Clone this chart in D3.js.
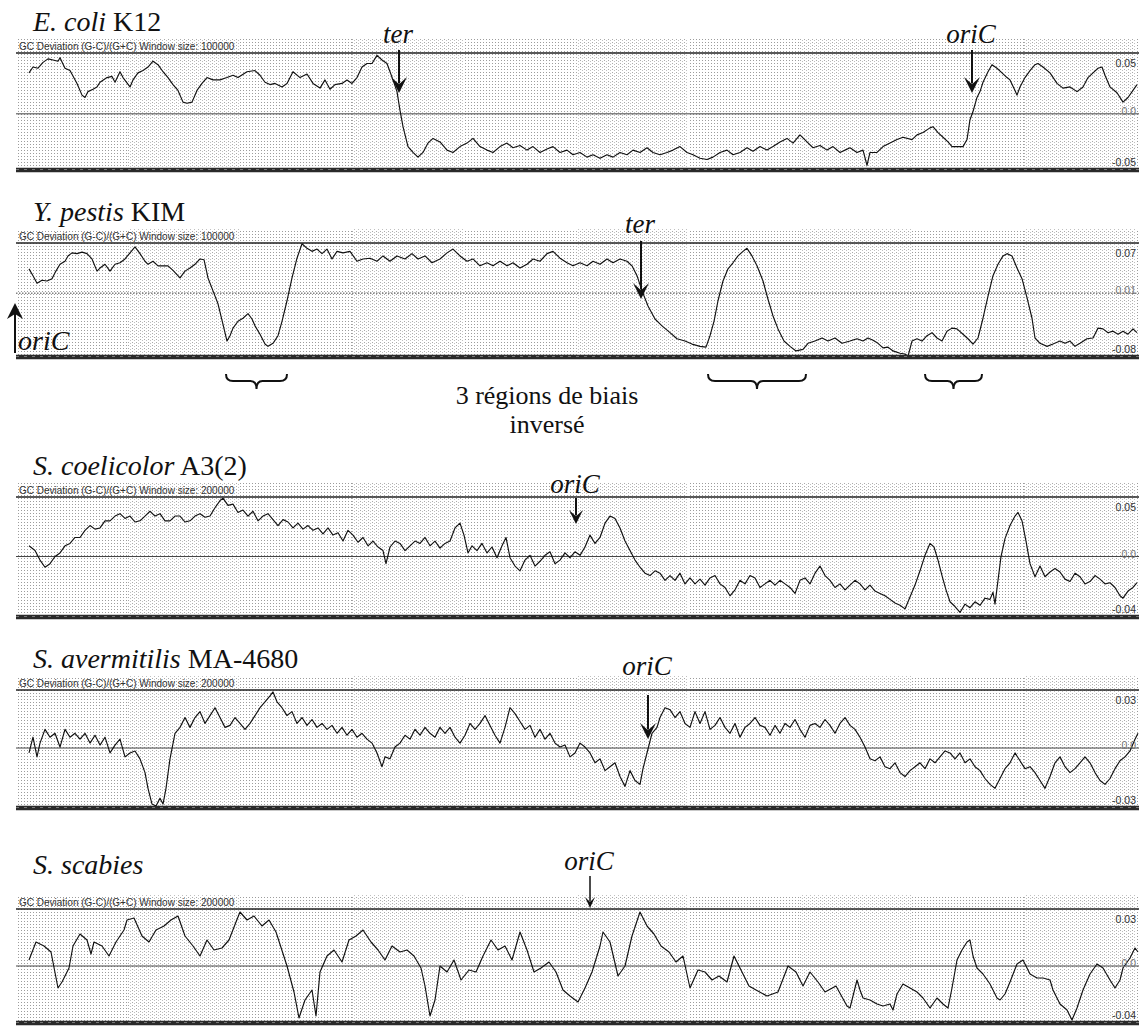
<!DOCTYPE html>
<html><head><meta charset="utf-8">
<script src="https://cdn.jsdelivr.net/npm/d3@7"></script>
<style>body{margin:0;background:#fff}svg{display:block}</style>
</head><body><svg id="c" width="1139" height="1026"></svg>
<script>
// ---------- DATA (genome position in window units 0..1110, GC skew value) ----------
const speciesItalic = ["E. coli", "Y. pestis", "S. coelicolor", "S. avermitilis", "S. scabies"];
const speciesStrain = [" K12", " KIM", " A3(2)", " MA-4680", ""];
const windowSizes = [100000, 100000, 200000, 200000, 200000];
const tickTop = ["0.05", "0.07", "0.05", "0.03", "0.03"];
const tickMid = ["0.0", "0.01", "0.0", "0.0", "0.0"];
const tickBottom = ["-0.05", "-0.08", "-0.04", "-0.03", "-0.04"];
const axisMax = [0.05, 0.07, 0.05, 0.03, 0.0285];
const axisMin = [-0.05, -0.08, -0.0508, -0.03, -0.0285];
const axisMidValue = [-0.002, 0.004, 0, 0.0005, 0];

const ecoliPos = [1,5,10,15,20,25,30,32,37,42,49,54,57,60,65,69,72,79,84,87,92,95,102,105,110,115,120,125,130,135,140,145,150,155,159,164,169,174,179,185,192,199,205,210,219,227,232,237,242,247,254,259,265,272,279,285,292,297,302,307,314,319,324,329,334,339,344,349,354,359,362,365,369,372,375,380,385,390,395,400,405,412,419,425,432,439,445,452,459,465,472,479,485,492,499,505,512,519,525,532,539,545,552,559,565,572,579,585,592,599,605,612,619,625,632,639,645,652,659,665,672,679,685,692,699,705,712,719,725,732,739,745,752,759,765,772,779,785,792,799,805,812,817,822,829,835,839,842,849,855,862,869,875,884,889,895,902,905,910,915,920,924,929,935,939,942,945,949,952,955,960,964,969,974,979,982,987,989,992,997,1002,1007,1010,1015,1022,1029,1035,1042,1049,1055,1060,1065,1070,1074,1077,1082,1089,1095,1100,1105,1109];
const ecoliSkew = [0.033,0.038,0.037,0.042,0.045,0.044,0.043,0.046,0.037,0.035,0.024,0.014,0.012,0.017,0.019,0.021,0.025,0.029,0.030,0.025,0.034,0.029,0.021,0.027,0.033,0.035,0.038,0.043,0.040,0.034,0.029,0.023,0.018,0.008,0.007,0.008,0.018,0.024,0.029,0.027,0.027,0.029,0.031,0.029,0.034,0.035,0.031,0.025,0.023,0.024,0.021,0.024,0.034,0.029,0.032,0.024,0.020,0.027,0.019,0.023,0.024,0.027,0.024,0.029,0.038,0.041,0.041,0.048,0.044,0.041,0.034,0.027,0.017,0.001,-0.013,-0.030,-0.035,-0.039,-0.035,-0.027,-0.023,-0.026,-0.033,-0.035,-0.030,-0.027,-0.023,-0.030,-0.033,-0.035,-0.030,-0.027,-0.031,-0.029,-0.033,-0.030,-0.035,-0.032,-0.030,-0.035,-0.033,-0.037,-0.035,-0.039,-0.037,-0.040,-0.037,-0.039,-0.035,-0.037,-0.033,-0.035,-0.031,-0.035,-0.037,-0.035,-0.033,-0.030,-0.035,-0.037,-0.040,-0.041,-0.039,-0.035,-0.033,-0.037,-0.035,-0.031,-0.034,-0.030,-0.033,-0.030,-0.026,-0.023,-0.027,-0.020,-0.026,-0.031,-0.029,-0.033,-0.030,-0.035,-0.033,-0.031,-0.035,-0.033,-0.046,-0.035,-0.035,-0.030,-0.027,-0.024,-0.022,-0.024,-0.020,-0.018,-0.014,-0.013,-0.018,-0.022,-0.026,-0.030,-0.030,-0.030,-0.024,-0.007,0.000,0.012,0.017,0.025,0.034,0.040,0.037,0.033,0.029,0.027,0.018,0.014,0.021,0.029,0.035,0.040,0.041,0.038,0.033,0.024,0.020,0.021,0.017,0.021,0.029,0.033,0.037,0.038,0.031,0.021,0.016,0.008,0.012,0.018,0.023];

const ypestisPos = [1,5,9,14,19,24,27,32,37,40,44,49,54,59,64,69,72,77,82,87,92,97,102,107,112,117,120,125,130,135,140,145,152,157,162,167,172,176,180,185,190,195,199,202,205,210,215,220,224,227,232,237,240,245,250,254,259,264,269,274,279,284,289,294,299,304,309,315,322,329,335,342,349,355,362,369,377,384,390,397,404,412,419,425,432,439,445,452,459,465,472,479,485,492,499,505,512,519,525,532,539,545,552,559,565,572,579,585,592,599,604,609,614,620,627,634,642,649,657,664,672,678,682,686,690,695,700,705,710,715,719,724,729,735,740,745,750,756,762,768,775,780,787,794,800,807,814,822,829,835,840,845,850,855,860,865,872,877,880,884,889,894,899,904,909,914,919,924,929,935,940,945,950,955,960,965,970,975,979,984,989,994,999,1004,1007,1012,1019,1025,1032,1037,1042,1047,1052,1059,1065,1070,1075,1080,1085,1090,1095,1100,1105,1109];
const ypestisSkew = [0.036,0.027,0.017,0.021,0.020,0.023,0.031,0.042,0.046,0.053,0.057,0.056,0.058,0.056,0.049,0.033,0.037,0.042,0.033,0.042,0.044,0.049,0.057,0.065,0.056,0.046,0.042,0.046,0.040,0.040,0.040,0.034,0.024,0.033,0.037,0.042,0.049,0.048,0.024,0.007,-0.010,-0.037,-0.059,-0.052,-0.042,-0.033,-0.029,-0.023,-0.030,-0.039,-0.050,-0.063,-0.066,-0.062,-0.052,-0.033,-0.006,0.024,0.050,0.069,0.063,0.059,0.062,0.056,0.062,0.049,0.059,0.057,0.059,0.046,0.049,0.050,0.046,0.053,0.046,0.053,0.049,0.056,0.049,0.053,0.044,0.049,0.057,0.062,0.053,0.046,0.049,0.040,0.044,0.040,0.046,0.040,0.044,0.037,0.042,0.049,0.046,0.056,0.059,0.050,0.044,0.040,0.044,0.040,0.046,0.042,0.049,0.044,0.049,0.046,0.040,0.027,0.007,-0.013,-0.030,-0.039,-0.048,-0.056,-0.059,-0.063,-0.066,-0.067,-0.052,-0.033,-0.006,0.020,0.036,0.044,0.053,0.059,0.063,0.053,0.040,0.020,-0.004,-0.026,-0.043,-0.059,-0.066,-0.072,-0.070,-0.062,-0.059,-0.055,-0.059,-0.055,-0.062,-0.059,-0.056,-0.059,-0.055,-0.058,-0.062,-0.068,-0.067,-0.072,-0.075,-0.076,-0.079,-0.059,-0.056,-0.059,-0.052,-0.048,-0.055,-0.059,-0.046,-0.042,-0.043,-0.050,-0.056,-0.063,-0.055,-0.029,0.000,0.027,0.042,0.053,0.056,0.053,0.037,0.023,-0.002,-0.029,-0.055,-0.062,-0.066,-0.063,-0.059,-0.062,-0.059,-0.066,-0.062,-0.056,-0.055,-0.042,-0.043,-0.048,-0.046,-0.050,-0.046,-0.050,-0.043,-0.048];

const scoelPos = [1,7,12,17,22,27,32,37,42,47,52,57,62,67,72,77,82,87,92,97,102,107,112,117,122,127,132,137,142,147,152,157,162,167,172,177,182,187,192,195,200,205,210,215,220,225,230,235,240,245,250,255,260,265,270,275,280,285,290,295,300,305,310,315,320,325,330,335,340,345,350,355,358,362,367,372,377,382,387,392,397,402,407,412,417,422,427,432,436,440,444,449,454,459,464,469,474,478,482,487,492,497,502,507,512,517,522,527,532,537,542,547,552,557,562,567,572,577,582,587,592,597,602,607,612,617,622,627,632,637,642,647,652,657,662,667,672,677,682,687,692,697,702,707,712,717,722,727,732,737,742,747,752,757,762,767,772,777,782,787,792,797,802,807,812,817,822,827,832,837,842,847,852,857,862,867,872,877,882,887,892,897,902,906,910,914,918,922,927,932,937,942,947,952,957,962,965,967,970,973,977,982,987,990,994,998,1002,1007,1012,1017,1022,1027,1032,1037,1042,1047,1052,1057,1062,1067,1072,1077,1082,1087,1092,1095,1100,1105,1109];
const scoelSkew = [0.009,0.005,-0.003,-0.009,-0.006,0.000,0.003,0.009,0.011,0.016,0.016,0.022,0.026,0.023,0.024,0.030,0.030,0.034,0.036,0.032,0.034,0.029,0.030,0.034,0.038,0.034,0.036,0.030,0.030,0.034,0.034,0.029,0.030,0.034,0.036,0.033,0.034,0.041,0.047,0.049,0.043,0.044,0.037,0.039,0.034,0.038,0.030,0.034,0.036,0.031,0.026,0.031,0.029,0.024,0.028,0.023,0.026,0.022,0.024,0.019,0.024,0.018,0.020,0.013,0.022,0.018,0.012,0.016,0.009,0.013,0.008,0.005,-0.006,0.008,0.013,0.011,0.005,0.009,0.013,0.011,0.016,0.009,0.013,0.007,0.011,0.013,0.024,0.028,0.018,0.003,0.009,0.005,0.011,0.003,0.008,-0.001,0.009,0.016,-0.001,-0.008,-0.012,-0.003,0.001,-0.008,-0.004,0.001,0.004,-0.006,-0.003,0.003,-0.001,0.004,0.001,0.008,0.018,0.011,0.016,0.028,0.034,0.032,0.024,0.013,0.005,-0.003,-0.009,-0.014,-0.016,-0.012,-0.014,-0.020,-0.016,-0.020,-0.014,-0.023,-0.018,-0.023,-0.019,-0.024,-0.018,-0.016,-0.023,-0.026,-0.033,-0.028,-0.020,-0.023,-0.016,-0.018,-0.026,-0.023,-0.020,-0.024,-0.020,-0.023,-0.026,-0.031,-0.020,-0.018,-0.023,-0.014,-0.008,-0.016,-0.020,-0.026,-0.023,-0.028,-0.024,-0.020,-0.023,-0.028,-0.024,-0.029,-0.031,-0.033,-0.036,-0.039,-0.041,-0.044,-0.034,-0.024,-0.012,0.001,0.011,0.008,-0.003,-0.016,-0.028,-0.038,-0.042,-0.047,-0.040,-0.043,-0.038,-0.041,-0.035,-0.036,-0.030,-0.040,-0.020,0.000,0.015,0.026,0.034,0.037,0.030,0.013,-0.006,-0.017,-0.008,-0.017,-0.013,-0.010,-0.013,-0.019,-0.021,-0.014,-0.017,-0.023,-0.021,-0.016,-0.019,-0.023,-0.022,-0.026,-0.033,-0.035,-0.029,-0.026,-0.022];

const saverPos = [1,5,9,12,17,22,27,32,37,42,47,52,57,62,67,72,77,82,87,92,97,102,107,112,117,120,124,128,132,135,138,142,147,152,157,162,167,172,177,182,187,192,197,202,207,212,217,222,227,232,237,242,245,249,254,259,264,269,274,279,284,289,294,299,304,309,314,319,324,329,334,339,344,349,354,357,362,367,372,377,382,387,392,397,402,407,412,417,422,427,432,437,442,447,452,457,462,467,472,477,482,487,492,497,502,507,512,517,522,527,532,537,542,547,552,557,562,567,572,577,582,587,592,597,602,607,612,615,620,624,629,632,637,642,647,652,657,662,667,672,677,682,687,692,697,702,707,712,717,722,727,732,737,742,747,752,757,762,767,772,777,782,787,792,797,802,807,812,817,822,827,832,837,842,847,852,857,862,867,872,877,882,887,892,897,902,907,912,917,922,927,932,937,942,947,952,957,962,967,972,977,982,987,992,997,1002,1007,1012,1017,1022,1027,1032,1037,1042,1047,1052,1057,1062,1067,1072,1077,1082,1087,1092,1097,1102,1107,1110];
const saverSkew = [-0.002,0.006,-0.004,0.003,0.010,0.006,0.008,0.001,0.010,0.006,0.008,0.005,0.008,0.003,0.007,0.002,0.006,-0.002,0.002,0.005,-0.004,-0.002,-0.001,-0.005,-0.012,-0.020,-0.028,-0.029,-0.025,-0.028,-0.020,-0.005,0.008,0.011,0.016,0.011,0.016,0.019,0.013,0.017,0.021,0.016,0.011,0.012,0.016,0.013,0.010,0.013,0.017,0.021,0.024,0.027,0.029,0.024,0.021,0.017,0.019,0.013,0.016,0.012,0.015,0.011,0.013,0.010,0.012,0.008,0.011,0.007,0.010,0.006,0.008,0.005,0.003,-0.002,-0.009,-0.004,-0.005,0.001,0.003,0.007,0.005,0.010,0.007,0.011,0.008,0.006,0.011,0.008,0.011,0.006,0.003,0.007,0.013,0.010,0.013,0.017,0.012,0.007,0.003,0.011,0.021,0.018,0.014,0.010,0.012,0.006,0.010,0.005,0.008,0.003,0.001,0.002,-0.004,-0.002,0.003,0.001,-0.002,-0.007,-0.005,-0.011,-0.009,-0.007,-0.014,-0.019,-0.011,-0.016,-0.018,-0.010,0.000,0.008,0.011,0.016,0.021,0.020,0.016,0.019,0.013,0.011,0.019,0.013,0.019,0.010,0.012,0.016,0.011,0.008,0.013,0.006,0.011,0.013,0.016,0.012,0.011,0.007,0.012,0.008,0.013,0.011,0.015,0.010,0.006,0.012,0.013,0.011,0.015,0.012,0.008,0.013,0.016,0.012,0.010,0.006,0.001,-0.005,-0.006,-0.004,-0.009,-0.010,-0.007,-0.012,-0.014,-0.011,-0.009,-0.007,-0.010,-0.005,-0.007,-0.004,-0.001,-0.002,-0.005,-0.002,-0.007,-0.005,-0.009,-0.011,-0.015,-0.018,-0.020,-0.015,-0.010,-0.007,-0.002,-0.006,-0.010,-0.009,-0.012,-0.016,-0.020,-0.014,-0.007,-0.004,-0.009,-0.012,-0.010,-0.007,-0.004,-0.007,-0.012,-0.016,-0.018,-0.015,-0.010,-0.006,-0.004,-0.001,0.005,0.008];

const sscabPos = [1,8,16,23,30,34,41,45,52,59,63,66,74,81,88,96,99,106,114,121,128,136,143,150,157,165,172,179,186,194,201,208,212,219,226,234,241,248,259,266,271,277,284,288,292,299,306,314,321,328,335,343,350,357,364,372,379,386,393,397,402,407,412,419,426,433,441,448,455,463,470,477,484,492,499,506,513,521,528,535,542,550,557,564,572,575,582,590,597,604,612,619,626,633,641,648,655,662,670,677,684,691,699,706,713,721,728,739,750,760,768,775,782,790,797,808,819,822,829,832,835,842,849,855,862,865,869,875,882,889,895,902,909,915,920,924,929,934,939,942,945,949,955,962,969,972,977,982,989,995,1002,1009,1015,1022,1025,1032,1039,1044,1049,1055,1062,1069,1075,1082,1087,1092,1095,1102,1107,1110];
const sscabSkew = [0.003,0.012,0.010,0.007,-0.011,-0.008,-0.001,0.010,0.016,0.013,0.006,0.012,0.010,0.005,0.012,0.018,0.023,0.024,0.015,0.012,0.018,0.020,0.023,0.025,0.015,0.010,0.005,0.013,0.008,0.009,0.013,0.022,0.027,0.023,0.025,0.020,0.023,0.017,0.000,-0.013,-0.026,-0.017,-0.012,-0.025,-0.003,0.005,0.008,0.002,0.013,0.015,0.018,0.012,0.008,0.003,0.010,0.007,0.008,0.005,-0.001,-0.010,-0.025,-0.017,0.000,-0.003,0.003,-0.007,-0.002,-0.003,0.005,0.013,0.008,0.010,0.003,0.017,0.008,-0.003,-0.001,0.002,-0.003,-0.012,-0.015,-0.018,-0.011,-0.003,0.010,0.017,0.012,-0.005,0.000,0.015,0.027,0.020,0.016,0.010,0.007,0.002,0.005,-0.011,-0.002,-0.003,-0.007,-0.005,-0.008,0.005,-0.002,-0.010,-0.012,-0.015,-0.013,0.000,-0.003,-0.010,-0.003,-0.008,-0.013,-0.010,-0.020,-0.021,-0.007,-0.012,-0.016,-0.017,-0.019,-0.020,-0.019,-0.022,-0.014,-0.009,-0.011,-0.013,-0.016,-0.021,-0.016,-0.019,-0.021,-0.011,0.003,0.008,0.012,0.013,0.005,-0.001,-0.004,-0.009,-0.016,-0.017,-0.014,-0.008,0.001,0.003,-0.004,-0.006,-0.006,-0.007,-0.012,-0.019,-0.022,-0.027,-0.021,-0.012,-0.004,0.001,-0.001,-0.007,-0.011,-0.007,-0.001,0.004,0.009,0.007];

// annotation markers: panel index, label, genome position
const markerPanel = [0, 0, 1, 2, 3, 4];
const markerLabel = ["ter", "oriC", "ter", "oriC", "oriC", "oriC"];
const markerPos = [371, 944, 613, 548, 620, 562];
// inverted-bias regions (Y. pestis), genome positions
const bracketStart = [198, 680, 897];
const bracketEnd = [259, 778, 954];
const noteLines = ["3 régions de biais", "inversé"];

// ---------- LAYOUT ----------
const W = 1139, H = 1026;
const svg = d3.select("#c");
const serif = "'Liberation Serif','Times New Roman',serif";
const sans = "'Liberation Sans',Arial,sans-serif";
const panelTop = [53, 243, 497, 690, 909];
const panelBottom = [170, 357, 617, 808, 1023];
const titleBase = [31, 221, 475, 668, 874];
const lineLeft = 16;

const x = d3.scaleLinear().domain([0, 1110]).range([28, 1138]);

const series = [
  d3.zip(ecoliPos, ecoliSkew),
  d3.zip(ypestisPos, ypestisSkew),
  d3.zip(scoelPos, scoelSkew),
  d3.zip(saverPos, saverSkew),
  d3.zip(sscabPos, sscabSkew)
];

// stipple patterns
const defs = svg.append("defs");
const pA = defs.append("pattern").attr("id", "dotA").attr("width", 3).attr("height", 3).attr("patternUnits", "userSpaceOnUse");
pA.append("rect").attr("width", 1).attr("height", 1).attr("fill", "#9c9c9c");
const pB = defs.append("pattern").attr("id", "dotB").attr("width", 4).attr("height", 3).attr("patternUnits", "userSpaceOnUse");
pB.append("rect").attr("width", 1).attr("height", 1).attr("fill", "#aaaaaa");
pB.append("rect").attr("x", 2).attr("y", 1).attr("width", 1).attr("height", 1).attr("fill", "#c0c0c0");

const scales = [];
speciesItalic.forEach((name, i) => {
  const top = panelTop[i], bot = panelBottom[i];
  const y = d3.scaleLinear().domain([axisMin[i], axisMax[i]]).range([bot, top]);
  scales.push(y);
  const g = svg.append("g");

  // stipple background in bands
  const bandW = 112;
  d3.range(lineLeft, W, bandW).forEach((bx, k) => {
    g.append("rect").attr("x", bx).attr("y", top - 14).attr("width", Math.min(bandW, W - bx)).attr("height", bot - top + 14)
      .attr("fill", k % 2 ? "url(#dotB)" : "url(#dotA)");
  });

  // title
  const t = g.append("text").attr("x", 33).attr("y", titleBase[i]).attr("font-family", serif).attr("font-size", 28).attr("fill", "#111");
  t.append("tspan").attr("font-style", "italic").text(name);
  if (speciesStrain[i]) t.append("tspan").text(speciesStrain[i]);

  // GC label
  g.append("text").attr("x", 19).attr("y", top - 3).attr("font-family", sans).attr("font-size", 10).attr("fill", "#333")
    .text(`GC Deviation (G-C)/(G+C)  Window size: ${windowSizes[i]}`);

  // lines
  g.append("line").attr("x1", lineLeft).attr("x2", W).attr("y1", top).attr("y2", top).attr("stroke", "#222").attr("stroke-width", 1.3);
  const midY = y(axisMidValue[i]);
  g.append("line").attr("x1", lineLeft).attr("x2", W).attr("y1", midY).attr("y2", midY)
    .attr("stroke", "#444").attr("stroke-width", 1).attr("stroke-dasharray", i === 1 ? "1.5,1.5" : null);

  // curve
  g.append("path").datum(series[i]).attr("fill", "none").attr("stroke", "#111").attr("stroke-width", 1.15).attr("stroke-linejoin", "round")
    .attr("d", d3.line().x(d => x(d[0])).y(d => y(d[1])));

  // bottom thick line
  g.append("line").attr("x1", lineLeft).attr("x2", W).attr("y1", bot).attr("y2", bot).attr("stroke", "#2a2a2a").attr("stroke-width", 4.5);
  g.append("line").attr("x1", lineLeft).attr("x2", W).attr("y1", bot - 0.5).attr("y2", bot - 0.5).attr("stroke", "#777").attr("stroke-width", 1).attr("stroke-dasharray", "3,5");

  // right tick labels
  const lab = (txt, yy, col) => g.append("text").attr("x", 1136).attr("y", yy).attr("text-anchor", "end")
    .attr("font-family", sans).attr("font-size", 10.5).attr("fill", col).text(txt);
  lab(tickTop[i], top + 14, "#333");
  lab(tickMid[i], midY + 1, "#777");
  lab(tickBottom[i], bot - 4, "#333");
});

// ---------- markers (arrows + labels) ----------
function downArrow(g, xx, y0, tip, head, hw, sw) {
  g.append("line").attr("x1", xx).attr("x2", xx).attr("y1", y0).attr("y2", tip - head * 0.6).attr("stroke", "#111").attr("stroke-width", sw);
  g.append("path").attr("fill", "#111")
    .attr("d", `M${xx - hw},${tip - head} L${xx},${tip - head * 0.55} L${xx + hw},${tip - head} L${xx},${tip} Z`);
}
const mg = svg.append("g");
markerLabel.forEach((lbl, k) => {
  const i = markerPanel[k];
  const top = panelTop[i];
  const xx = x(markerPos[k]);
  let textY, y0, tip, head = 16, hw = 8, sw = 2;
  if (i === 0) { textY = top - 10; y0 = top - 3; tip = top + 40; }
  else if (i === 1) { textY = top - 10; y0 = top - 2; tip = top + 56; }
  else if (i === 2) { textY = top - 4; y0 = top + 1; tip = top + 27; head = 14; hw = 7; }
  else if (i === 3) { textY = top - 15; y0 = top + 5; tip = top + 49; }
  else { textY = top - 39; y0 = top - 33; tip = top - 1; head = 11; hw = 5; sw = 1.5; }
  mg.append("text").attr("x", xx - 1).attr("y", textY).attr("text-anchor", "middle").attr("font-family", serif)
    .attr("font-style", "italic").attr("font-size", 27).attr("fill", "#111").text(lbl);
  downArrow(mg, xx, y0, tip, head, hw, sw);
});

// left oriC (start of Y. pestis genome) with upward arrow
{
  const bot = panelBottom[1];
  const xx = x(0) - 13;
  mg.append("line").attr("x1", xx).attr("x2", xx).attr("y1", bot - 4).attr("y2", bot - 45).attr("stroke", "#111").attr("stroke-width", 2);
  mg.append("path").attr("fill", "#111")
    .attr("d", `M${xx - 8},${bot - 38} L${xx},${bot - 43} L${xx + 8},${bot - 38} L${xx},${bot - 54} Z`);
  mg.append("text").attr("x", xx + 3).attr("y", bot - 7).attr("font-family", serif).attr("font-style", "italic")
    .attr("font-size", 28).attr("fill", "#111").text("oriC");
}

// ---------- brackets + note ----------
const by = panelBottom[1] + 17;
bracketStart.forEach((s, k) => {
  const x0 = x(s), x1 = x(bracketEnd[k]), xm = (x0 + x1) / 2;
  const d = `M${x0},${by} Q${x0},${by + 7} ${x0 + 7},${by + 7} L${xm - 6},${by + 7} Q${xm},${by + 7} ${xm},${by + 15} Q${xm},${by + 7} ${xm + 6},${by + 7} L${x1 - 7},${by + 7} Q${x1},${by + 7} ${x1},${by}`;
  mg.append("path").attr("d", d).attr("fill", "none").attr("stroke", "#111").attr("stroke-width", 2);
});
noteLines.forEach((ln, k) => {
  mg.append("text").attr("x", 547).attr("y", 404 + k * 29).attr("text-anchor", "middle").attr("font-family", serif)
    .attr("font-size", 26).attr("fill", "#111").text(ln);
});
</script></body></html>
